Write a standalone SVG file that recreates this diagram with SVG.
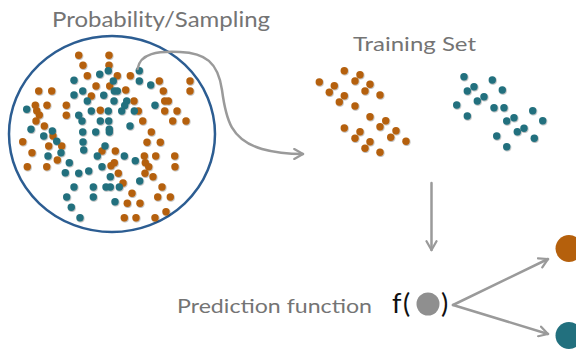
<svg xmlns="http://www.w3.org/2000/svg" width="576" height="349" viewBox="0 0 576 349">
<defs>
<filter id="sh" x="-50%" y="-50%" width="200%" height="200%">
<feDropShadow dx="0.6" dy="0.8" stdDeviation="0.6" flood-color="#000" flood-opacity="0.35"/>
</filter>
<marker id="ah" viewBox="0 0 10 10" refX="8" refY="5" markerWidth="5" markerHeight="5" orient="auto" markerUnits="strokeWidth">
<path d="M1,1 L8,5 L1,9" fill="none" stroke="#9a9a9a" stroke-width="1.8" stroke-linecap="round" stroke-linejoin="round"/>
</marker>
<style>
.o{fill:#b5600c}
.t{fill:#22707e}
.lbl{font-family:Lato,"Liberation Sans",sans-serif;fill:#747474}
.con{fill:none;stroke:#9a9a9a;stroke-width:2.5;stroke-linecap:round}
</style>
</defs>
<rect width="576" height="349" fill="#fff"/>

<g id="population">
<text class="lbl" x="52" y="27" font-size="21" textLength="218" lengthAdjust="spacingAndGlyphs">Probability/Sampling</text>
<ellipse cx="112" cy="134" rx="103" ry="98" fill="none" stroke="#2c5d92" stroke-width="2.5"/>
<g filter="url(#sh)">
<g class="o">
<circle cx="78.7" cy="55.3" r="3.7"/><circle cx="109" cy="55.3" r="3.7"/><circle cx="83" cy="65.3" r="3.7"/><circle cx="109" cy="65.3" r="3.7"/>
<circle cx="87.3" cy="75.7" r="3.7"/><circle cx="117.3" cy="75.7" r="3.7"/><circle cx="130.3" cy="75.7" r="3.7"/><circle cx="159.3" cy="81" r="3.7"/>
<circle cx="190" cy="81" r="3.7"/><circle cx="96" cy="86" r="3.7"/><circle cx="109.7" cy="86" r="3.7"/><circle cx="38.7" cy="91" r="3.7"/>
<circle cx="51.7" cy="91" r="3.7"/><circle cx="91.3" cy="96" r="3.7"/><circle cx="125.7" cy="90" r="3.7"/><circle cx="163.3" cy="91" r="3.7"/>
<circle cx="190" cy="91" r="3.7"/><circle cx="134" cy="101" r="3.7"/><circle cx="164.7" cy="101" r="3.7"/><circle cx="168.3" cy="101" r="3.7"/>
<circle cx="35.3" cy="105.3" r="3.7"/><circle cx="47" cy="105.3" r="3.7"/><circle cx="66.3" cy="105.3" r="3.7"/><circle cx="36.7" cy="110.7" r="3.7"/>
<circle cx="39.3" cy="115" r="3.7"/><circle cx="66.3" cy="115.3" r="3.7"/><circle cx="100.3" cy="110.3" r="3.7"/><circle cx="138.3" cy="111" r="3.7"/>
<circle cx="164.7" cy="111" r="3.7"/><circle cx="177" cy="111" r="3.7"/><circle cx="36" cy="121" r="3.7"/><circle cx="142.7" cy="121" r="3.7"/>
<circle cx="172.7" cy="121" r="3.7"/><circle cx="186" cy="121" r="3.7"/><circle cx="44.3" cy="126" r="3.7"/><circle cx="151.3" cy="132" r="3.7"/>
<circle cx="53" cy="136" r="3.7"/><circle cx="22.7" cy="141.7" r="3.7"/><circle cx="147" cy="142.3" r="3.7"/><circle cx="160.3" cy="142.3" r="3.7"/>
<circle cx="48.7" cy="146" r="3.7"/><circle cx="61.7" cy="146" r="3.7"/><circle cx="102" cy="151" r="3.7"/><circle cx="115.3" cy="151" r="3.7"/>
<circle cx="32" cy="152.7" r="3.7"/><circle cx="144.3" cy="156" r="3.7"/><circle cx="155.7" cy="156" r="3.7"/><circle cx="174.7" cy="156" r="3.7"/>
<circle cx="57.3" cy="160" r="3.7"/><circle cx="114.3" cy="162.7" r="3.7"/><circle cx="111" cy="165.7" r="3.7"/><circle cx="145.3" cy="162.7" r="3.7"/>
<circle cx="148.7" cy="166.7" r="3.7"/><circle cx="27.3" cy="166.7" r="3.7"/><circle cx="46.7" cy="166.7" r="3.7"/><circle cx="175" cy="166.7" r="3.7"/>
<circle cx="118.3" cy="173.3" r="3.7"/><circle cx="145" cy="173.3" r="3.7"/><circle cx="153" cy="176.7" r="3.7"/><circle cx="123" cy="183" r="3.7"/>
<circle cx="162" cy="187" r="3.7"/><circle cx="132" cy="193.3" r="3.7"/><circle cx="157.7" cy="197" r="3.7"/><circle cx="170.3" cy="197" r="3.7"/>
<circle cx="127.3" cy="203.3" r="3.7"/><circle cx="140" cy="203.3" r="3.7"/><circle cx="166" cy="211.7" r="3.7"/><circle cx="124.3" cy="217.7" r="3.7"/>
<circle cx="136" cy="217.7" r="3.7"/><circle cx="155" cy="217.7" r="3.7"/>
</g>
<g class="t">
<circle cx="108.3" cy="70.7" r="3.7"/><circle cx="139.3" cy="70.7" r="3.7"/><circle cx="99.7" cy="74.3" r="3.7"/><circle cx="74" cy="80.3" r="3.7"/>
<circle cx="113.3" cy="81" r="3.7"/><circle cx="139.3" cy="81" r="3.7"/><circle cx="150.7" cy="85" r="3.7"/><circle cx="74" cy="95" r="3.7"/>
<circle cx="82.7" cy="91" r="3.7"/><circle cx="103.7" cy="95.3" r="3.7"/><circle cx="114.3" cy="91" r="3.7"/><circle cx="117.3" cy="91" r="3.7"/>
<circle cx="87.3" cy="101" r="3.7"/><circle cx="114" cy="101" r="3.7"/><circle cx="126.7" cy="101" r="3.7"/><circle cx="124.7" cy="105.5" r="3.7"/>
<circle cx="155" cy="105.3" r="3.7"/><circle cx="26.7" cy="109.3" r="3.7"/><circle cx="78.7" cy="115.3" r="3.7"/><circle cx="91.3" cy="111" r="3.7"/>
<circle cx="108.3" cy="111" r="3.7"/><circle cx="121.7" cy="111" r="3.7"/><circle cx="134.3" cy="111" r="3.7"/><circle cx="82" cy="121" r="3.7"/>
<circle cx="100.3" cy="121" r="3.7"/><circle cx="108.7" cy="121" r="3.7"/><circle cx="130" cy="126" r="3.7"/><circle cx="31" cy="129.3" r="3.7"/>
<circle cx="52.3" cy="131" r="3.7"/><circle cx="82.7" cy="132" r="3.7"/><circle cx="95.7" cy="132" r="3.7"/><circle cx="109.3" cy="129.3" r="3.7"/>
<circle cx="109.3" cy="132" r="3.7"/><circle cx="43.7" cy="136" r="3.7"/><circle cx="56.7" cy="141.3" r="3.7"/><circle cx="83" cy="142" r="3.7"/>
<circle cx="105" cy="146" r="3.7"/><circle cx="83.7" cy="150" r="3.7"/><circle cx="61" cy="152.7" r="3.7"/><circle cx="48" cy="156" r="3.7"/>
<circle cx="97.3" cy="156" r="3.7"/><circle cx="124.3" cy="156" r="3.7"/><circle cx="69.3" cy="162.7" r="3.7"/><circle cx="135.3" cy="160.7" r="3.7"/>
<circle cx="102" cy="166.7" r="3.7"/><circle cx="65.3" cy="172.7" r="3.7"/><circle cx="78.7" cy="173.3" r="3.7"/><circle cx="88.7" cy="171" r="3.7"/>
<circle cx="110.3" cy="176.7" r="3.7"/><circle cx="139.7" cy="181" r="3.7"/><circle cx="74" cy="187" r="3.7"/><circle cx="93.3" cy="187" r="3.7"/>
<circle cx="106" cy="187" r="3.7"/><circle cx="110.3" cy="187" r="3.7"/><circle cx="119.3" cy="187" r="3.7"/><circle cx="66.7" cy="197" r="3.7"/>
<circle cx="93.3" cy="197" r="3.7"/><circle cx="115" cy="201.7" r="3.7"/><circle cx="71.3" cy="207.3" r="3.7"/><circle cx="80" cy="217.7" r="3.7"/>
</g>
</g>
</g>

<g id="training-set">
<text class="lbl" x="353" y="51" font-size="20" textLength="123" lengthAdjust="spacingAndGlyphs">Training Set</text>
<g filter="url(#sh)">
<g class="o">
<circle cx="344.3" cy="70.7" r="3.7"/><circle cx="360" cy="74.7" r="3.7"/><circle cx="319.3" cy="82" r="3.7"/><circle cx="355" cy="81" r="3.7"/>
<circle cx="334.3" cy="85.7" r="3.7"/><circle cx="370" cy="84.3" r="3.7"/><circle cx="329.3" cy="92.3" r="3.7"/><circle cx="365" cy="91" r="3.7"/>
<circle cx="344.3" cy="95.7" r="3.7"/><circle cx="380" cy="95" r="3.7"/><circle cx="339.3" cy="102" r="3.7"/><circle cx="355" cy="106" r="3.7"/>
<circle cx="370" cy="116.7" r="3.7"/><circle cx="385.7" cy="120.7" r="3.7"/><circle cx="344.3" cy="128" r="3.7"/><circle cx="380" cy="126.7" r="3.7"/>
<circle cx="360" cy="131.7" r="3.7"/><circle cx="396" cy="130.7" r="3.7"/><circle cx="355" cy="138.3" r="3.7"/><circle cx="390.7" cy="137.3" r="3.7"/>
<circle cx="370" cy="141.7" r="3.7"/><circle cx="406" cy="141.3" r="3.7"/><circle cx="365" cy="148.3" r="3.7"/><circle cx="380" cy="152.3" r="3.7"/>
</g>
<g class="t">
<circle cx="464" cy="76.7" r="3.7"/><circle cx="492.3" cy="80" r="3.7"/><circle cx="474" cy="86.7" r="3.7"/><circle cx="467.3" cy="91" r="3.7"/>
<circle cx="502.3" cy="90" r="3.7"/><circle cx="484" cy="96.7" r="3.7"/><circle cx="477.3" cy="101" r="3.7"/><circle cx="456.7" cy="105" r="3.7"/>
<circle cx="494" cy="107.7" r="3.7"/><circle cx="504" cy="107.7" r="3.7"/><circle cx="532.7" cy="110.7" r="3.7"/><circle cx="467.3" cy="116" r="3.7"/>
<circle cx="514" cy="117.7" r="3.7"/><circle cx="506.7" cy="121" r="3.7"/><circle cx="542.7" cy="120.7" r="3.7"/><circle cx="524" cy="128.3" r="3.7"/>
<circle cx="517.3" cy="131.7" r="3.7"/><circle cx="496.7" cy="136" r="3.7"/><circle cx="534.3" cy="138.3" r="3.7"/><circle cx="506.7" cy="146.7" r="3.7"/>
</g>
</g>
</g>

<g id="prediction-function">
<text class="lbl" x="177" y="313" font-size="20" textLength="195" lengthAdjust="spacingAndGlyphs">Prediction function</text>
<text x="392" y="313" font-family="Lato,'Liberation Sans',sans-serif" font-size="27" fill="#111" letter-spacing="1.5">f(</text>
<circle cx="428" cy="304" r="11.5" fill="#8f8f8f"/>
<text x="441" y="313" font-family="Lato,'Liberation Sans',sans-serif" font-size="27" fill="#111">)</text>
</g>

<g id="output-orange"><circle cx="569" cy="248.5" r="13.5" class="o"/></g>
<g id="output-teal"><circle cx="569" cy="335.5" r="13.5" class="t"/></g>

<g id="connectors">
<path class="con" marker-end="url(#ah)" d="M137.5,69 C140,53 158,51 180,52 C205,53 218,62 222,90 C226,120 231,140 262,149 C278,153.5 292,154 303,154"/>
<path class="con" marker-end="url(#ah)" d="M431.5,183 L431.5,250"/>
<path class="con" marker-end="url(#ah)" d="M453,305 L548,259"/>
<path class="con" marker-end="url(#ah)" d="M453,305 L548,334"/>
</g>
</svg>
